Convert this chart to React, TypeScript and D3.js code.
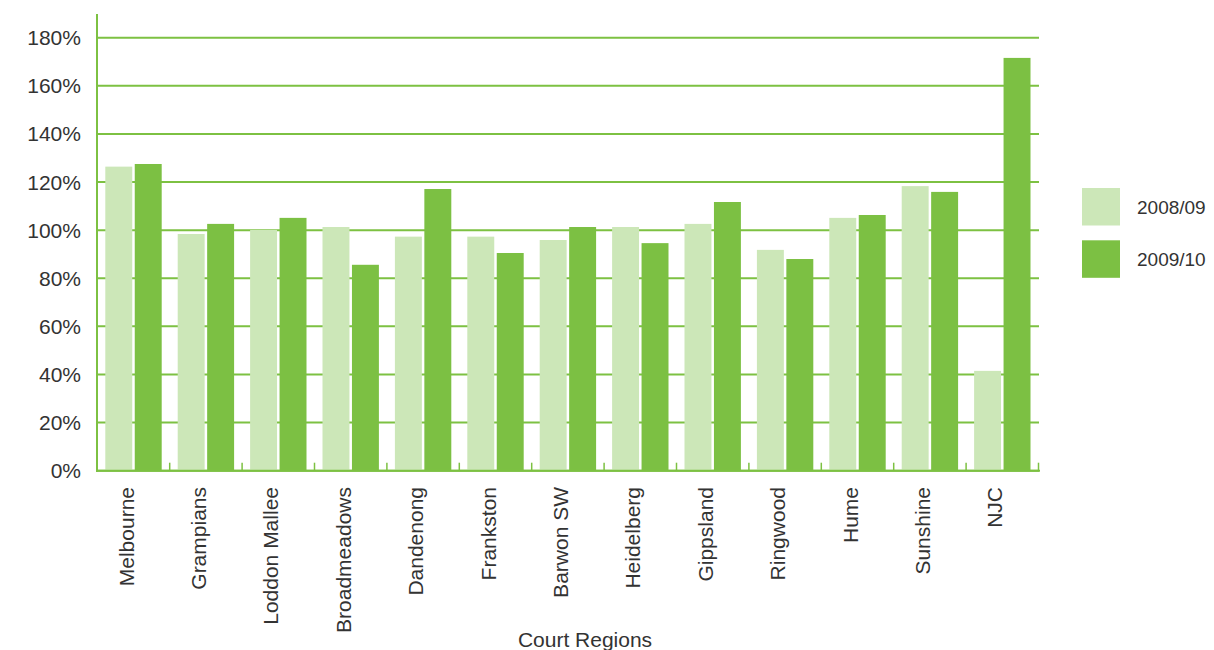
import React from "react";
import * as d3 from "d3";

const regions = [
  "Melbourne", "Grampians", "Loddon Mallee", "Broadmeadows", "Dandenong",
  "Frankston", "Barwon SW", "Heidelberg", "Gippsland", "Ringwood",
  "Hume", "Sunshine", "NJC",
];
const seriesNames = ["2008/09", "2009/10"];
const values0809 = [126.4, 98.4, 100.1, 101.3, 97.3, 97.3, 95.9, 101.3, 102.6, 91.8, 105.1, 118.3, 41.5];
const values0910 = [127.5, 102.6, 105.1, 85.6, 117.1, 90.5, 101.3, 94.6, 111.7, 88.0, 106.3, 115.9, 171.6];
const yTicks = [0, 20, 40, 60, 80, 100, 120, 140, 160, 180];

const W = 1214;
const H = 650;
const left = 97;
const right = 1039;
const bottom = 470.7;
const top180 = 37.7;
const axisTop = 14;

const lightGreen = "#cce7b8";
const darkGreen = "#7cc043";
const lineGreen = "#7dc142";
const textColor = "#333333";
const font = "'Liberation Sans', Arial, Helvetica, sans-serif";

export default function App() {
  const x0 = d3.scaleBand<string>().domain(regions).range([left + 0.3, right - 0.5])
    .paddingInner(0.221).paddingOuter(0.1105);
  const x1 = d3.scaleBand<string>().domain(seriesNames).range([0, x0.bandwidth()]).paddingInner(0.085);
  const y = d3.scaleLinear().domain([0, 180]).range([bottom, top180]);
  const colors = d3.scaleOrdinal<string, string>().domain(seriesNames).range([lightGreen, darkGreen]);
  const series = [values0809, values0910];
  const step = x0.step();
  const r0 = x0.range()[0];

  return (
    <svg width={W} height={H} style={{ position: "absolute", left: 0, top: 0, background: "#fff" }}>
      {/* horizontal gridlines */}
      {yTicks.map((t) => (
        <line key={"g" + t} x1={left - 1} x2={right} y1={y(t)} y2={y(t)} stroke={lineGreen} strokeWidth={2} />
      ))}
      {/* y tick labels */}
      {yTicks.map((t) => (
        <text key={"yl" + t} x={81} y={y(t)} dy="0.36em" textAnchor="end" fontFamily={font} fontSize={21} fill={textColor}>
          {t}%
        </text>
      ))}
      {/* bars */}
      {regions.map((r, i) => (
        <g key={r} transform={`translate(${x0(r)},0)`}>
          {seriesNames.map((s, j) => (
            <rect key={s} x={x1(s)} y={y(series[j][i])} width={x1.bandwidth()} height={bottom - y(series[j][i])} fill={colors(s)} />
          ))}
        </g>
      ))}
      {/* axes */}
      <line x1={left - 0} x2={left - 0} y1={axisTop} y2={bottom + 1} stroke={lineGreen} strokeWidth={2} />
      <line x1={left - 1} x2={right + 1} y1={bottom} y2={bottom} stroke={lineGreen} strokeWidth={2} />
      {d3.range(1, regions.length + 1).map((k) => (
        <line key={"t" + k} x1={r0 + k * step} x2={r0 + k * step} y1={bottom} y2={bottom - 8} stroke={lineGreen} strokeWidth={1.5} />
      ))}
      {/* category labels */}
      {regions.map((r) => {
        const cx = (x0(r) ?? 0) + x0.bandwidth() / 2;
        return (
          <text key={"xl" + r} transform={`translate(${cx},487) rotate(-90)`} textAnchor="end" fontFamily={font} fontSize={21} fill={textColor}>
            {r}
          </text>
        );
      })}
      <text x={585} y={647} textAnchor="middle" fontFamily={font} fontSize={21} fill={textColor}>
        Court Regions
      </text>
      {/* legend */}
      {seriesNames.map((s, j) => (
        <g key={"lg" + s} transform={`translate(1082,${188 + j * 52.3})`}>
          <rect width={38} height={37.5} fill={colors(s)} />
          <text x={55} y={19} dy="0.36em" fontFamily={font} fontSize={19} fill={textColor}>{s}</text>
        </g>
      ))}
    </svg>
  );
}
